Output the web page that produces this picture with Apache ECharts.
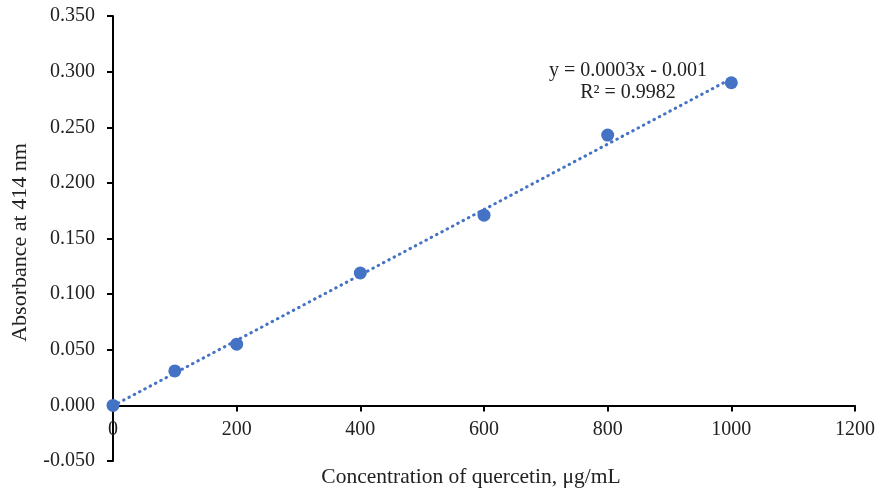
<!DOCTYPE html>
<html>
<head>
<meta charset="utf-8">
<script src="https://cdn.jsdelivr.net/npm/echarts@6/dist/echarts.min.js"></script>
<style>
  html, body { margin: 0; padding: 0; background: #fff; }
  #main { width: 879px; height: 492px; }
</style>
</head>
<body>
<div id="main"></div>
<script>
// concentration (ug/mL) and absorbance
var concentration = [0, 100, 200, 400, 600, 800, 1000];
var absorbance = [0.000, 0.031, 0.055, 0.119, 0.171, 0.243, 0.290];
var equationText = ['y = 0.0003x - 0.001', 'R\u00B2 = 0.9982'];
var yMin = -0.05, yMax = 0.35;

// least squares fit for the dotted trendline
var n = concentration.length, sx = 0, sy = 0, sxx = 0, sxy = 0;
for (var i = 0; i < n; i++) {
  sx += concentration[i]; sy += absorbance[i];
  sxx += concentration[i] * concentration[i];
  sxy += concentration[i] * absorbance[i];
}
var slope = (n * sxy - sx * sy) / (n * sxx - sx * sx);
var intercept = (sy - slope * sx) / n;
var xFirst = concentration[0], xLast = concentration[n - 1];
var trend = [[xFirst, slope * xFirst + intercept], [xLast, slope * xLast + intercept]];

var points = concentration.map(function (c, i) { return [c, absorbance[i]]; });

var font = '"Liberation Serif", "Times New Roman", serif';
var gridTop = 16, gridBottom = 31, chartH = 492;
// lift the x axis (line, ticks, labels, name) up to y = 0
var plotH = chartH - gridTop - gridBottom;
var xAxisOffset = -plotH * (0 - yMin) / (yMax - yMin);

var myChart = echarts.init(document.getElementById('main'));

var option = {
  animation: false,
  grid: { left: 113, right: 24, top: gridTop, bottom: gridBottom, outerBoundsMode: 'none', containLabel: false },
  xAxis: {
    type: 'value',
    min: 0, max: 1200, interval: 200,
    offset: xAxisOffset,
    splitLine: { show: false },
    axisLine: { onZero: false, lineStyle: { color: '#000', width: 2 } },
    axisTick: { show: true, length: 6, lineStyle: { color: '#000', width: 2 } },
    axisLabel: {
      color: '#222', fontFamily: font, fontSize: 20, margin: 14,
      formatter: function (v) { return String(v); }
    },
    name: 'Concentration of quercetin, \u03BCg/mL',
    nameLocation: 'middle',
    nameGap: 61,
    nameMoveOverlap: false,
    nameTextStyle: { color: '#222', fontFamily: font, fontSize: 21.5, padding: [0, 26, 0, 0] }
  },
  yAxis: {
    type: 'value',
    min: yMin, max: yMax, interval: 0.05,
    splitLine: { show: false },
    axisLine: { onZero: false, lineStyle: { color: '#000', width: 2 } },
    axisTick: { show: true, length: 6, lineStyle: { color: '#000', width: 2 } },
    axisLabel: {
      color: '#222', fontFamily: font, fontSize: 20, margin: 18,
      formatter: function (v) { return v.toFixed(3); }
    },
    name: 'Absorbance at 414 nm',
    nameLocation: 'middle',
    nameGap: 82,
    nameMoveOverlap: false,
    nameTextStyle: { color: '#222', fontFamily: font, fontSize: 22, padding: [0, 8, 0, 0] }
  },
  series: [
    {
      type: 'line',
      data: trend,
      symbol: 'none',
      silent: true,
      z: 1,
      lineStyle: { color: '#4472C4', width: 3, type: [0.5, 5.5], cap: 'round' }
    },
    {
      type: 'scatter',
      data: points,
      symbol: 'circle',
      symbolSize: 13,
      z: 2,
      itemStyle: { color: '#4472C4', opacity: 1 }
    }
  ],
  graphic: [
    {
      type: 'text', x: 628, y: 71,
      style: { text: equationText[0], fill: '#222', font: '20px ' + font, align: 'center', verticalAlign: 'middle' }
    },
    {
      type: 'text', x: 628, y: 93,
      style: { text: equationText[1], fill: '#222', font: '20px ' + font, align: 'center', verticalAlign: 'middle' }
    }
  ]
};
myChart.setOption(option);
</script>
</body>
</html>
